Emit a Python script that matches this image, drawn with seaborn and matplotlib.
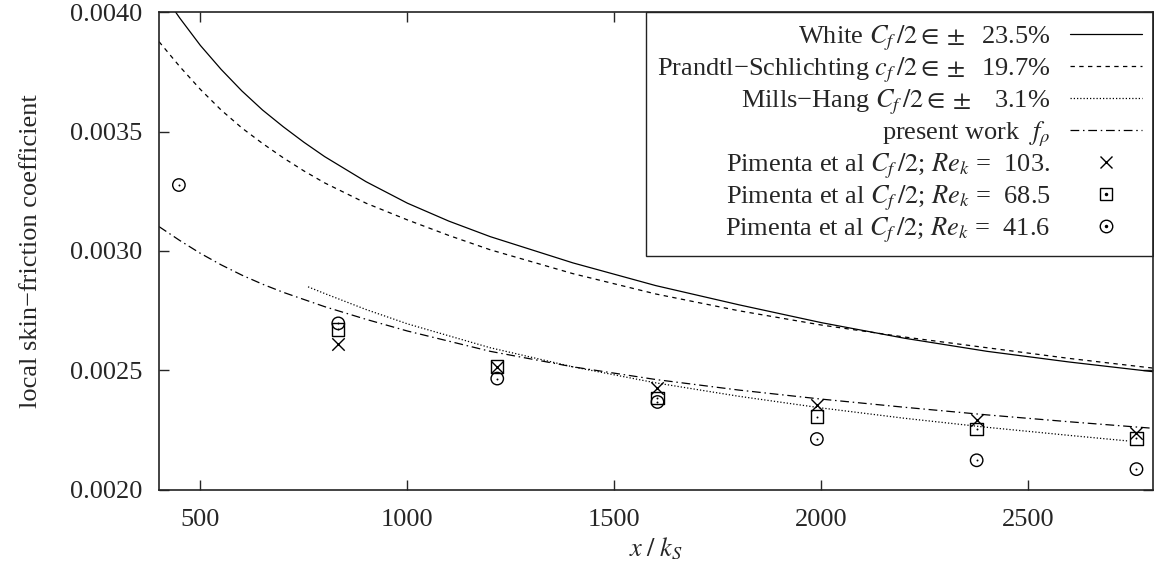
import matplotlib
matplotlib.use("Agg")
import matplotlib.pyplot as plt
import seaborn as sns
from matplotlib.lines import Line2D

# ---- data ----
white_x = [400, 450, 500, 550, 600, 650, 700, 750, 800, 900, 1000, 1100, 1200, 1400, 1600, 1800, 2000,
           2200, 2400, 2600, 2800]
white_y = [0.00410, 0.003975, 0.00386, 0.00376, 0.00367, 0.00359, 0.00352, 0.003455, 0.003395, 0.00329,
           0.00320, 0.003125, 0.00306, 0.00295, 0.002855, 0.002775, 0.00270, 0.002635, 0.00258, 0.002535,
           0.002495]

prandtl_x = [400, 450, 500, 550, 600, 650, 700, 750, 800, 900, 1000, 1100, 1200, 1400, 1600, 1800, 2000,
             2200, 2400, 2600, 2800]
prandtl_y = [0.003876, 0.003772, 0.003676, 0.00359, 0.003515, 0.00345, 0.00339, 0.003335, 0.003285,
             0.00320, 0.00313, 0.003065, 0.003005, 0.002905, 0.00282, 0.00275, 0.00269, 0.00264, 0.002595,
             0.00255, 0.00251]

mills_x = [760, 800, 900, 1000, 1200, 1400, 1600, 1800, 2000, 2200, 2400, 2600, 2740]
mills_y = [0.00285, 0.002822, 0.002755, 0.002695, 0.002595, 0.002515, 0.002448, 0.002392, 0.002343,
           0.00230, 0.002262, 0.002228, 0.002205]

present_x = [400, 450, 500, 550, 600, 650, 700, 800, 900, 1000, 1200, 1400, 1600, 1800, 2000, 2200, 2400,
             2600, 2800]
present_y = [0.003102, 0.003044, 0.00299, 0.002942, 0.002899, 0.002861, 0.002827, 0.002767, 0.002714,
             0.002665, 0.00258, 0.002515, 0.002462, 0.002418, 0.00238, 0.002346, 0.002314, 0.002285,
             0.002258]

pim_x = [833, 1217, 1604, 1989, 2375, 2761]
pim103_y = [0.00261, 0.002516, 0.002425, 0.002356, 0.002293, 0.002240]
pim685_y = [0.002672, 0.002516, 0.002385, 0.002307, 0.002254, 0.002216]
pim416_x = [448, 833, 1217, 1604, 1989, 2375, 2761]
pim416_y = [0.003276, 0.002697, 0.002466, 0.002368, 0.002213, 0.002124, 0.002087]

x_ticks = [500, 1000, 1500, 2000, 2500]
y_ticks = [0.0020, 0.0025, 0.0030, 0.0035, 0.0040]

labels = [
    r"White $C_f\,/2 \in \pm$  23.5%",
    r"Prandtl−Schlichting $c_f\,/2 \in \pm$  19.7%",
    r"Mills−Hang $C_f\,/2 \in \pm$   3.1%",
    r"present work  $f_\rho$",
    r"Pimenta et al $C_f\,/2$; $Re_k$ =  103.",
    r"Pimenta et al $C_f\,/2$; $Re_k$ =  68.5",
    r"Pimenta et al $C_f\,/2$; $Re_k$ =  41.6",
]

# ---- style ----
sns.set_style("ticks")
plt.rcParams.update({
    "font.family": ["Liberation Serif", "DejaVu Serif"],
    "mathtext.fontset": "stix",
    "font.size": 19,
    "xtick.direction": "in", "ytick.direction": "in",
    "xtick.top": True, "ytick.right": True,
    "xtick.major.size": 7, "ytick.major.size": 7,
    "xtick.major.width": 1.0, "ytick.major.width": 1.0,
    "axes.linewidth": 1.2,
    "axes.edgecolor": "#222222",
})

fig = plt.figure(figsize=(11.54, 5.73), dpi=100)
ax = fig.add_axes([0.1378, 0.145, 0.861, 0.834])

ls_white = "-"
ls_prandtl = (0, (3.5, 3.5))
ls_mills = (0, (1, 1.6))
ls_present = (0, (7, 3, 1.2, 3))
lw = 0.9

sns.lineplot(x=white_x, y=white_y, color="k", lw=lw, linestyle=ls_white, ax=ax, sort=False, estimator=None)
sns.lineplot(x=prandtl_x, y=prandtl_y, color="k", lw=lw, linestyle=ls_prandtl, ax=ax, sort=False, estimator=None)
sns.lineplot(x=mills_x, y=mills_y, color="k", lw=lw, linestyle=ls_mills, ax=ax, sort=False, estimator=None)
sns.lineplot(x=present_x, y=present_y, color="k", lw=lw, linestyle=ls_present, ax=ax, sort=False, estimator=None)

ms = 80
sns.scatterplot(x=pim_x, y=pim103_y, marker="x", s=ms, color="k", linewidth=1.0, ax=ax)
sns.scatterplot(x=pim_x, y=pim685_y, marker="s", s=ms, facecolor="none", edgecolor="k", linewidth=1.0, ax=ax)
sns.scatterplot(x=pim_x, y=pim685_y, marker="o", s=2, color="k", linewidth=0, ax=ax)
sns.scatterplot(x=pim416_x, y=pim416_y, marker="o", s=ms, facecolor="none", edgecolor="k", linewidth=1.0, ax=ax)
sns.scatterplot(x=pim416_x, y=pim416_y, marker="o", s=2, color="k", linewidth=0, ax=ax)

ax.set_xlim(400, 2800)
ax.set_ylim(0.0020, 0.0040)
ax.set_xticks(x_ticks)
ax.set_xticklabels([str(t) for t in x_ticks])
ax.set_yticks(y_ticks)
ax.set_yticklabels([f"{t:.4f}" for t in y_ticks])
ax.tick_params(axis="y", pad=12)
ax.tick_params(axis="x", pad=14)
ax.set_ylabel("local skin−friction coefficient", labelpad=20)
ax.set_xlabel(r"$x\;/\;k_S$", labelpad=3)
for s in ax.spines.values():
    s.set_visible(True)

msz = 9
handles = [
    Line2D([], [], color="k", lw=lw, linestyle=ls_white),
    Line2D([], [], color="k", lw=lw, linestyle=ls_prandtl),
    Line2D([], [], color="k", lw=lw, linestyle=ls_mills),
    Line2D([], [], color="k", lw=lw, linestyle=ls_present),
    Line2D([], [], color="k", marker="x", ls="none", ms=msz, mew=1.0),
    (Line2D([], [], color="k", marker="s", ls="none", ms=msz, mfc="none", mew=1.0),
     Line2D([], [], color="k", marker="o", ls="none", ms=1.5)),
    (Line2D([], [], color="k", marker="o", ls="none", ms=msz, mfc="none", mew=1.0),
     Line2D([], [], color="k", marker="o", ls="none", ms=1.5)),
]
leg = ax.legend(handles, labels, loc="upper right", bbox_to_anchor=(1, 1), borderaxespad=0,
                markerfirst=False, frameon=True, fancybox=False, edgecolor="#222222", framealpha=1,
                handlelength=2.7, handletextpad=0.75, labelspacing=0.1, borderpad=0.42, fontsize=19)
leg.get_frame().set_linewidth(1.0)
leg.set_zorder(2.2)

fig.savefig("out.png", dpi=100)
